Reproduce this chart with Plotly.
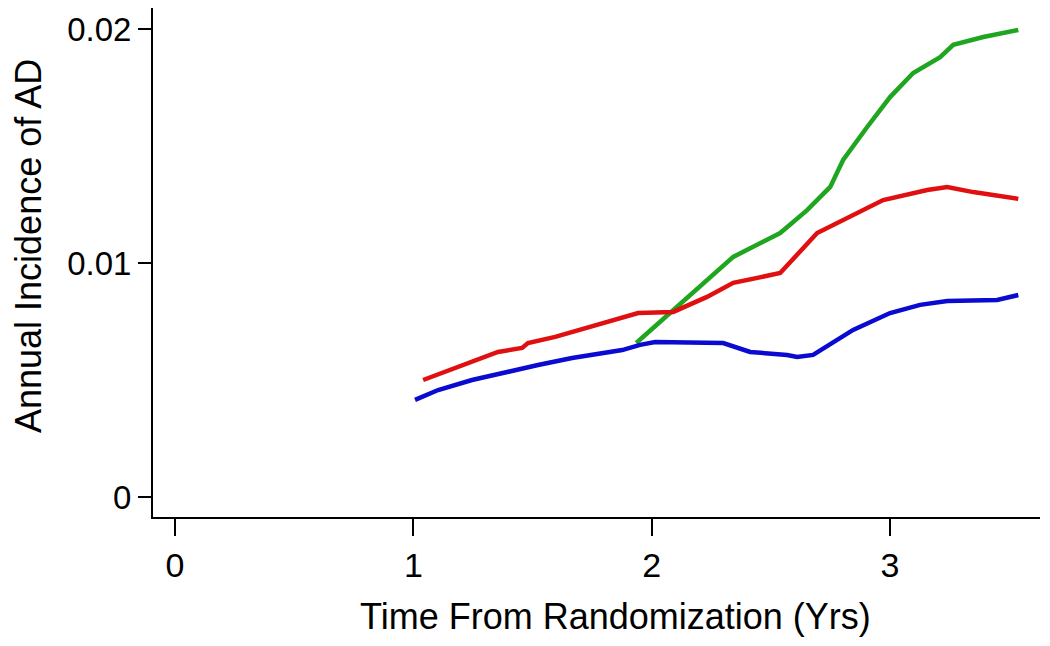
import plotly.graph_objects as go

# Data
blue_t = [1.007, 1.104, 1.246, 1.385, 1.523, 1.666, 1.804, 1.876, 1.951, 2.014, 2.30, 2.413, 2.568, 2.61, 2.677, 2.845, 3.0, 3.126, 3.24, 3.449, 3.538]
blue_v = [0.00415, 0.00457, 0.00500, 0.00534, 0.00564, 0.00594, 0.00615, 0.00628, 0.00650, 0.00662, 0.00658, 0.00620, 0.00607, 0.00598, 0.00607, 0.00714, 0.00786, 0.00821, 0.00838, 0.00842, 0.00863]

red_t = [1.041, 1.175, 1.355, 1.456, 1.481, 1.595, 1.721, 1.804, 1.943, 2.09, 2.232, 2.342, 2.539, 2.694, 2.833, 2.971, 3.156, 3.24, 3.349, 3.538]
red_v = [0.00500, 0.00551, 0.00620, 0.00637, 0.00658, 0.00684, 0.00722, 0.00748, 0.00786, 0.00791, 0.00855, 0.00915, 0.00957, 0.01128, 0.01197, 0.01269, 0.01312, 0.01325, 0.01303, 0.01274]

green_t = [1.935, 2.09, 2.232, 2.342, 2.539, 2.652, 2.749, 2.803, 2.904, 3.0, 3.097, 3.21, 3.265, 3.391, 3.538]
green_v = [0.00658, 0.00799, 0.00927, 0.01026, 0.01128, 0.01226, 0.01325, 0.01440, 0.01581, 0.01709, 0.01812, 0.01880, 0.01932, 0.01966, 0.01996]

x_ticks = [0, 1, 2, 3]
y_ticks = [0, 0.01, 0.02]
y_tick_labels = ["0", "0.01", "0.02"]

FONT = "Liberation Sans, Arial, sans-serif"

fig = go.Figure()
for t, v, c in [(green_t, green_v, "#1fa51f"), (red_t, red_v, "#e01010"), (blue_t, blue_v, "#0a0ad0")]:
    fig.add_trace(go.Scatter(x=t, y=v, mode="lines", line=dict(color=c, width=4.5), showlegend=False))

fig.update_layout(
    width=1034, height=630,
    margin=dict(l=145, r=2, t=0, b=121),
    paper_bgcolor="white", plot_bgcolor="white",
    font=dict(family=FONT, color="black", size=34),
    xaxis=dict(range=[-0.0923, 3.629], tickvals=x_ticks, ticks="outside", ticklen=17, tickwidth=2,
               tickcolor="black", showline=True, linecolor="black", linewidth=2, showgrid=False,
               zeroline=False, tickfont=dict(size=34)),
    yaxis=dict(range=[-0.000855, 0.020897], tickvals=y_ticks, ticktext=y_tick_labels, ticks="outside",
               ticklen=13, tickwidth=2, tickcolor="black", showline=True, linecolor="black", linewidth=2,
               showgrid=False, zeroline=False, tickfont=dict(size=33)),
    annotations=[
        dict(text="Time From Randomization (Yrs)", xref="paper", yref="paper", x=0.5209, y=-0.1945,
             showarrow=False, font=dict(size=36), xanchor="center", yanchor="middle"),
        dict(text="Annual Incidence of AD", xref="paper", yref="paper", x=-0.1409, y=0.5324,
             showarrow=False, font=dict(size=36), textangle=-90, xanchor="center", yanchor="middle"),
    ],
)

fig.write_html("out.html")
